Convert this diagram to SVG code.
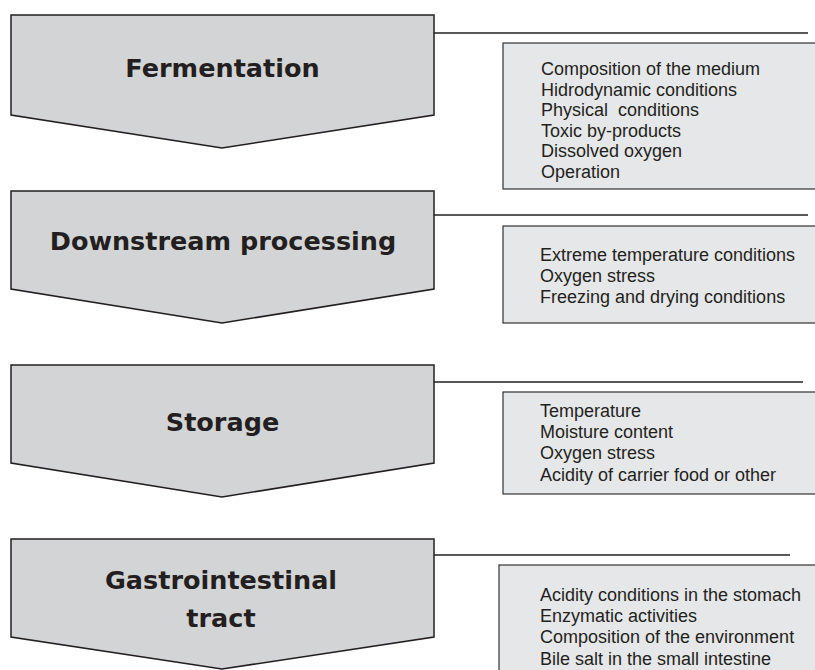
<svg xmlns="http://www.w3.org/2000/svg" width="815" height="670" viewBox="0 0 815 670">
<style>
.stage{fill:#d3d4d6;stroke:#231f20;stroke-width:1.5;stroke-linejoin:miter}
.box{fill:#e6e7e8;stroke:#333333;stroke-width:1.2}
.conn{stroke:#231f20;stroke-width:1.5;fill:none}
.title{font-family:"DejaVu Sans",Verdana,sans-serif;font-weight:bold;font-size:25.5px;fill:#231f20;text-anchor:middle}
.item{font-family:"Liberation Sans",Arial,sans-serif;font-size:18px;fill:#231f20;white-space:pre}
</style>
<rect width="815" height="670" fill="#ffffff"/>
<g id="connectors">
<line class="conn" x1="434" y1="33" x2="808" y2="33"/>
<line class="conn" x1="434" y1="215" x2="808" y2="215"/>
<line class="conn" x1="434" y1="382" x2="803" y2="382"/>
<line class="conn" x1="434" y1="555" x2="790" y2="555"/>
</g>
<g id="fermentation">
<polygon class="stage" points="11,15 434,15 434,115 222,148 11,115"/>
<text class="title" x="222.5" y="77">Fermentation</text>
</g>
<g id="fermentation-factors">
<rect class="box" x="503" y="43" width="330" height="146"/>
<text class="item" x="541" y="75">Composition of the medium</text>
<text class="item" x="541" y="95.5">Hidrodynamic conditions</text>
<text class="item" x="541" y="116" xml:space="preserve">Physical  conditions</text>
<text class="item" x="541" y="136.5">Toxic by-products</text>
<text class="item" x="541" y="157">Dissolved oxygen</text>
<text class="item" x="541" y="177.5">Operation</text>
</g>
<g id="downstream">
<polygon class="stage" points="11,191 434,191 434,289 222,323 11,289"/>
<text class="title" x="223" y="250">Downstream processing</text>
</g>
<g id="downstream-factors">
<rect class="box" x="503" y="226" width="330" height="97"/>
<text class="item" x="540" y="261">Extreme temperature conditions</text>
<text class="item" x="540" y="282">Oxygen stress</text>
<text class="item" x="540" y="303">Freezing and drying conditions</text>
</g>
<g id="storage">
<polygon class="stage" points="11,365 434,365 434,463 222,497 11,463"/>
<text class="title" x="222.5" y="431">Storage</text>
</g>
<g id="storage-factors">
<rect class="box" x="503" y="392" width="330" height="102"/>
<text class="item" x="540" y="417">Temperature</text>
<text class="item" x="540" y="438">Moisture content</text>
<text class="item" x="540" y="459">Oxygen stress</text>
<text class="item" x="540" y="481">Acidity of carrier food or other</text>
</g>
<g id="gastrointestinal">
<polygon class="stage" points="11,539 434,539 434,637 222,669 11,637"/>
<text class="title" x="221" y="589">Gastrointestinal</text>
<text class="title" x="221" y="627">tract</text>
</g>
<g id="gastrointestinal-factors">
<rect class="box" x="499" y="565" width="340" height="130"/>
<text class="item" x="540" y="601">Acidity conditions in the stomach</text>
<text class="item" x="540" y="622">Enzymatic activities</text>
<text class="item" x="540" y="643">Composition of the environment</text>
<text class="item" x="540" y="665">Bile salt in the small intestine</text>
</g>
</svg>
